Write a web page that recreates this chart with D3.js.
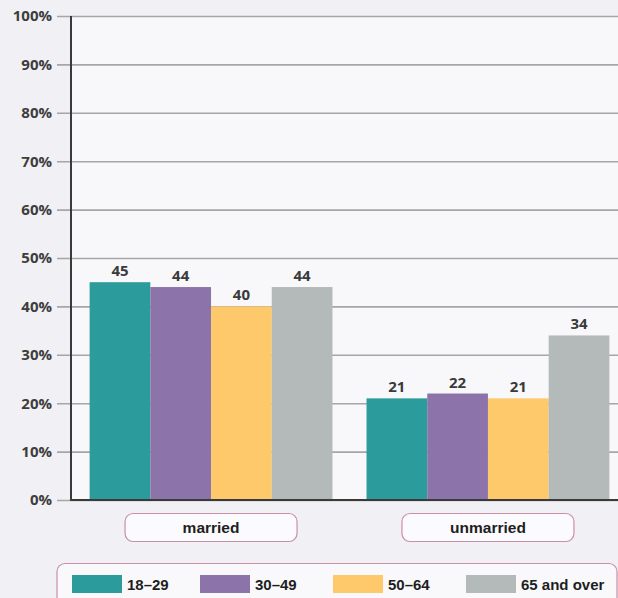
<!DOCTYPE html>
<html><head><meta charset="utf-8">
<script src="https://cdn.jsdelivr.net/npm/d3@7"></script>
<style>html,body{margin:0;padding:0;background:#f1f0f4;}svg{display:block;}</style>
</head><body><svg id="c" width="618" height="598"></svg>
<script>
const categories = ["married", "unmarried"];
const seriesNames = ["18–29", "30–49", "50–64", "65 and over"];
const seriesColors = ["#2b9b9c", "#8c74ab", "#fdc96a", "#b4b9b9"];
const values18_29 = [45, 21];
const values30_49 = [44, 22];
const values50_64 = [40, 21];
const values65plus = [44, 34];
const yTicks = [0, 10, 20, 30, 40, 50, 60, 70, 80, 90, 100];

const allValues = [values18_29, values30_49, values50_64, values65plus];
const svg = d3.select("#c");
const W = 618, H = 598;

svg.append("rect").attr("width", W).attr("height", H).attr("fill", "#f1f0f4");
svg.append("rect").attr("x", 71).attr("y", 16).attr("width", W - 71).attr("height", 484).attr("fill", "#f8f8fa");

const y = d3.scaleLinear().domain([0, 100]).range([500, 16]);
const x0 = d3.scaleBand().domain(categories).range([73, 626]).paddingInner(0.123).paddingOuter(0.06);
const x1 = d3.scaleBand().domain(seriesNames).range([0, x0.bandwidth()]).padding(0);

// gridlines + y labels
const yAxis = d3.axisLeft(y).tickValues(yTicks).tickSize(-(W - 57)).tickFormat(d => d + "%").tickPadding(5);
const gy = svg.append("g").attr("transform", "translate(57,0)").call(yAxis);
gy.select(".domain").remove();
gy.selectAll(".tick line").attr("stroke", "#a6a6a9").attr("stroke-width", 1.6);
gy.selectAll(".tick text").attr("font-family", "'Open Sans', sans-serif").attr("font-weight", 700)
  .attr("font-size", 15).attr("fill", "#3d3d3d");

// bars
const groups = svg.append("g").selectAll("g").data(categories).join("g")
  .attr("transform", d => "translate(" + x0(d) + ",0)");
groups.each(function(cat, ci) {
  const g = d3.select(this);
  seriesNames.forEach((s, si) => {
    const v = allValues[si][ci];
    g.append("rect").attr("x", x1(s)).attr("width", x1.bandwidth())
      .attr("y", y(v)).attr("height", y(0) - y(v)).attr("fill", seriesColors[si]);
    g.append("text").attr("x", x1(s) + x1.bandwidth() / 2).attr("y", y(v) - 6)
      .attr("text-anchor", "middle").attr("font-family", "'Open Sans', sans-serif")
      .attr("font-weight", 700).attr("font-size", 15).attr("fill", "#3a3a3a").text(v);
  });
});

// axes lines
svg.append("line").attr("x1", 71).attr("x2", 71).attr("y1", 16).attr("y2", 501)
  .attr("stroke", "#3a3a3a").attr("stroke-width", 2);
svg.append("line").attr("x1", 70).attr("x2", W).attr("y1", 500).attr("y2", 500)
  .attr("stroke", "#3a3a3a").attr("stroke-width", 2);

// category boxes
categories.forEach(c => {
  const cx = x0(c) + x0.bandwidth() / 2;
  svg.append("rect").attr("x", cx - 86).attr("y", 513.5).attr("width", 172).attr("height", 28)
    .attr("rx", 8).attr("fill", "#fbfafc").attr("stroke", "#c98fa8").attr("stroke-width", 1.2);
  svg.append("text").attr("x", cx).attr("y", 533).attr("text-anchor", "middle")
    .attr("font-family", "'Liberation Sans', Arial, sans-serif").attr("font-weight", 700)
    .attr("font-size", 15.5).attr("fill", "#1e1e1e").text(c);
});

// legend
svg.append("rect").attr("x", 57).attr("y", 563.5).attr("width", 560).attr("height", 50)
  .attr("rx", 8).attr("fill", "#f9f9fb").attr("stroke", "#c98fa8").attr("stroke-width", 1.2);
const legX = [72, 200, 333, 466];
seriesNames.forEach((s, i) => {
  svg.append("rect").attr("x", legX[i]).attr("y", 575).attr("width", 50).attr("height", 18).attr("fill", seriesColors[i]);
  svg.append("text").attr("x", legX[i] + 55).attr("y", 590)
    .attr("font-family", "'Liberation Sans', Arial, sans-serif").attr("font-weight", 700)
    .attr("font-size", 15).attr("fill", "#1e1e1e").text(s);
});
</script></body></html>
